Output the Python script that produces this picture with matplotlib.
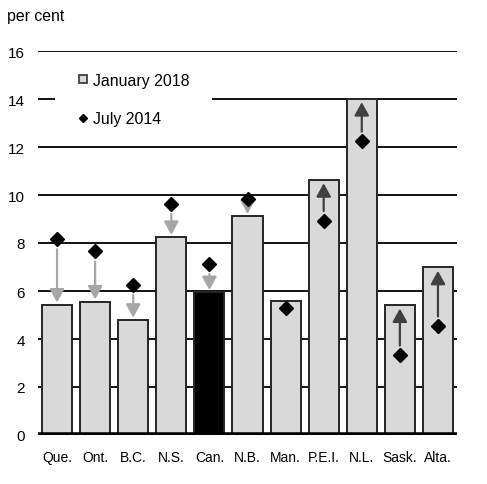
import matplotlib
matplotlib.use("Agg")
import matplotlib.pyplot as plt
from matplotlib.lines import Line2D
from matplotlib.patches import Rectangle
import matplotlib.transforms as mtransforms

plt.rcParams['font.family'] = ['Liberation Sans', 'DejaVu Sans']

provinces = ["Que.", "Ont.", "B.C.", "N.S.", "Can.", "N.B.", "Man.", "P.E.I.", "N.L.", "Sask.", "Alta."]
jan_2018 = [5.42, 5.55, 4.79, 8.24, 5.94, 9.12, 5.60, 10.64, 14.02, 5.42, 6.99]
jul_2014 = [8.16, 7.65, 6.26, 9.63, 7.13, 9.83, 5.29, 8.93, 12.24, 3.33, 4.54]
highlight = "Can."
yticks = [0, 2, 4, 6, 8, 10, 12, 14, 16]

W, H = 487, 485
fig = plt.figure(figsize=(W / 100, H / 100), dpi=100)
ax = fig.add_axes([38 / W, (H - 436) / H, (457 - 38) / W, (436 - 52) / H])

x = list(range(len(provinces)))
colors = ["black" if p == highlight else "#d9d9d9" for p in provinces]

for yv in yticks[1:]:
    ax.axhline(yv, color="black", lw=1.3, zorder=1)

ax.bar(x, jan_2018, width=0.79, color=colors, edgecolor="#262626", linewidth=1.4, zorder=2)
ax.axhline(0, color="black", lw=4.0, zorder=3)

# arrows from July 2014 to January 2018
for xi, a, b in zip(x, jul_2014, jan_2018):
    d = b - a
    if abs(d) < 0.5:
        continue
    if d < 0:
        start, end, col = a - 0.42, b + 0.1, "#a6a6a6"
    else:
        start, end, col = a + 0.4, b - 0.15, "#404040"
    ax.annotate("", xy=(xi, end), xytext=(xi, start),
                arrowprops=dict(arrowstyle="-|>,head_length=0.4,head_width=0.22",
                                mutation_scale=20, color=col, lw=1.6,
                                shrinkA=0, shrinkB=0),
                zorder=4)

ax.plot(x, jul_2014, linestyle="none", marker="D", markersize=6.8,
        color="black", zorder=5)

ax.set_xlim(-0.5, len(provinces) - 0.5)
ax.set_ylim(0, 16)
ax.set_yticks(yticks)
ax.set_yticklabels([str(v) for v in yticks], fontsize=11)
ax.set_xticks(x)
ax.set_xticklabels(provinces, fontsize=10)
ax.tick_params(axis="y", length=0, pad=9.4)
ax.tick_params(axis="x", length=0, pad=11)
for s in ax.spines.values():
    s.set_visible(False)

# white area behind the legend
trans = mtransforms.blended_transform_factory(ax.transAxes, ax.transData)
ax.add_patch(Rectangle((0.041, 13.5), 0.374, 1.0, transform=trans,
                       facecolor="white", edgecolor="none", zorder=1.5))

handles = [
    Line2D([], [], linestyle="none", marker="s", markersize=6,
           markerfacecolor="#d9d9d9", markeredgecolor="#404040", markeredgewidth=1.3),
    Line2D([], [], linestyle="none", marker="D", markersize=3.6, color="black"),
]
leg = ax.legend(handles, ["January 2018", "July 2014"], loc="upper left",
                bbox_to_anchor=(73.8 / W, 1 - 69.0 / H), bbox_transform=fig.transFigure,
                borderaxespad=0, borderpad=0.3, handlelength=0.6, handletextpad=0.3,
                labelspacing=1.48, fontsize=11.4, frameon=True, fancybox=False)
leg.get_frame().set_edgecolor("none")
leg.get_frame().set_facecolor("white")
leg.get_frame().set_alpha(1)

fig.text(7 / W, 1 - 16 / H, "per cent", fontsize=11.4, va="center", ha="left")

fig.savefig("out.png", dpi=100)
